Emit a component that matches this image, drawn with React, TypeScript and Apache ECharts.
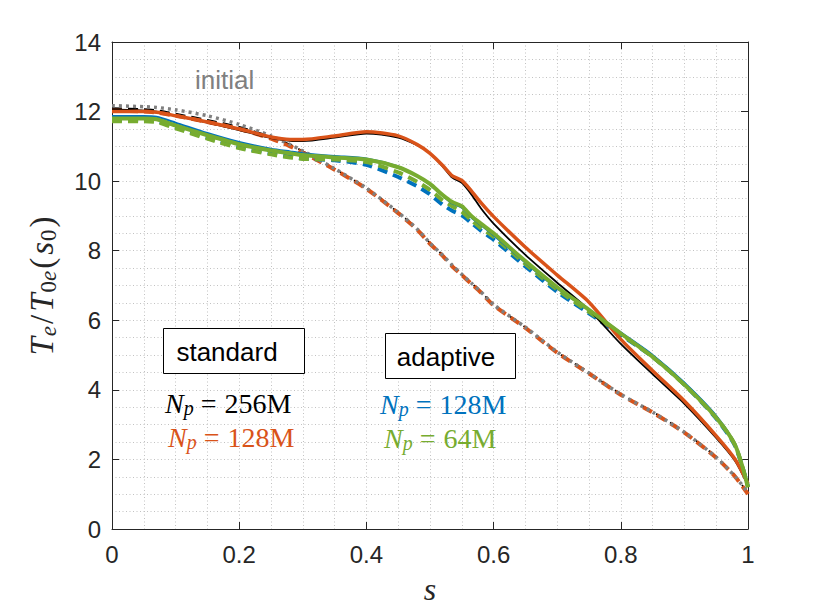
import React, { useEffect, useRef } from "react";
import * as echarts from "echarts";

// s grid shared by all curves
const sGrid = [0, 0.05, 0.07, 0.1, 0.15, 0.2, 0.25, 0.28, 0.3, 0.35, 0.4, 0.45, 0.48, 0.5, 0.52, 0.535, 0.55, 0.565, 0.58, 0.6, 0.65, 0.7, 0.75, 0.8, 0.85, 0.9, 0.95, 0.98, 1.0];

const initialT = [12.17, 12.14, 12.12, 12.05, 11.88, 11.63, 11.3, 11.05, 10.87, 10.36, 9.8, 9.1, 8.62, 8.22, 7.87, 7.58, 7.32, 7.07, 6.82, 6.45, 5.8, 5.09, 4.48, 3.87, 3.36, 2.78, 2.06, 1.5, 1.05];

const std256Solid = [12.06, 12.03, 12.0, 11.88, 11.68, 11.47, 11.24, 11.16, 11.15, 11.25, 11.37, 11.25, 11.03, 10.8, 10.42, 10.1, 9.95, 9.62, 9.22, 8.78, 7.88, 7.08, 6.3, 5.32, 4.45, 3.6, 2.62, 1.95, 1.25];
const std128Solid = [12.0, 12.0, 11.98, 11.88, 11.7, 11.5, 11.27, 11.2, 11.2, 11.3, 11.42, 11.3, 11.05, 10.8, 10.45, 10.15, 10.02, 9.72, 9.38, 8.98, 8.1, 7.3, 6.52, 5.45, 4.55, 3.68, 2.68, 2.0, 1.3];
const std256Dashed = [12.1, 12.07, 12.04, 11.94, 11.76, 11.56, 11.28, 11.05, 10.86, 10.35, 9.8, 9.1, 8.62, 8.22, 7.87, 7.57, 7.32, 7.07, 6.82, 6.45, 5.8, 5.09, 4.49, 3.88, 3.37, 2.79, 2.07, 1.52, 1.02];
const std128Dashed = [12.03, 12.0, 11.97, 11.88, 11.7, 11.5, 11.22, 11.0, 10.82, 10.33, 9.78, 9.08, 8.6, 8.2, 7.85, 7.55, 7.3, 7.05, 6.8, 6.43, 5.78, 5.07, 4.47, 3.86, 3.35, 2.77, 2.05, 1.5, 1.0];

const ada128Solid = [11.87, 11.87, 11.85, 11.68, 11.38, 11.12, 10.93, 10.85, 10.8, 10.72, 10.65, 10.42, 10.15, 9.9, 9.58, 9.36, 9.24, 8.96, 8.74, 8.45, 7.66, 6.92, 6.3, 5.65, 5.0, 4.2, 3.25, 2.42, 1.25];
const ada64Solid = [11.8, 11.8, 11.78, 11.6, 11.32, 11.06, 10.88, 10.8, 10.75, 10.68, 10.62, 10.4, 10.15, 9.92, 9.6, 9.4, 9.28, 9.0, 8.78, 8.5, 7.7, 6.95, 6.3, 5.62, 4.95, 4.15, 3.2, 2.4, 1.2];
const ada128Dashed = [11.75, 11.75, 11.73, 11.55, 11.26, 10.98, 10.8, 10.7, 10.65, 10.6, 10.47, 10.12, 9.85, 9.62, 9.32, 9.15, 9.02, 8.8, 8.58, 8.32, 7.55, 6.82, 6.2, 5.58, 4.95, 4.15, 3.18, 2.38, 1.22];
const ada64Dashed = [11.72, 11.72, 11.7, 11.52, 11.22, 10.95, 10.77, 10.68, 10.64, 10.62, 10.55, 10.25, 9.98, 9.75, 9.45, 9.28, 9.12, 8.88, 8.65, 8.4, 7.62, 6.88, 6.24, 5.6, 4.95, 4.15, 3.2, 2.4, 1.2];

const BLACK = "#000000";
const ORANGE = "#D95319";
const BLUE = "#0072BD";
const GREEN = "#77AC30";
const GRAY = "#808080";

const SERIF = "'Liberation Serif', 'DejaVu Serif', serif";
const SANS = "'Liberation Sans', Arial, sans-serif";

const gridLine = { color: "#c2c2c2", width: 1, type: [1, 2.5] as number[] };

function pts(vals: number[]) {
  return sGrid.map((s, i) => [s, vals[i]]);
}

function mk(name: string, vals: number[], color: string, width: number, type: any) {
  return {
    name,
    type: "line",
    data: pts(vals),
    showSymbol: false,
    symbol: "none",
    smooth: 0.25,
    lineStyle: { color, width, type, cap: "butt" },
    silent: true,
  };
}

const latexRich = (color: string) => ({
  i: { fontFamily: SERIF, fontStyle: "italic", fontSize: 28, fill: color, lineHeight: 30 },
  s: { fontFamily: SERIF, fontStyle: "italic", fontSize: 20, fill: color, verticalAlign: "bottom", lineHeight: 6 },
  e: { fontFamily: SERIF, fontSize: 28, fill: color, lineHeight: 30, padding: [0, 8, 0, 7] },
  r: { fontFamily: SERIF, fontSize: 28, fill: color, lineHeight: 30 },
});

const labelText = (n: string) => `{i|N}{s|p}{e|=}{r|${n}}`;

export default function App() {
  const ref = useRef<HTMLDivElement>(null);
  useEffect(() => {
    if (!ref.current) return;
    const chart = echarts.init(ref.current, undefined, { renderer: "svg" });
    const axisCommon = {
      type: "value",
      axisLine: { show: true, onZero: false, lineStyle: { color: "#262626", width: 1 } },
      axisTick: { show: true, inside: true, length: 7, lineStyle: { color: "#262626", width: 1 } },
    };
    const option: any = {
      animation: false,
      backgroundColor: "#ffffff",
      grid: { left: 112, right: 82, top: 42, bottom: 80, containLabel: false },
      xAxis: [
        {
          ...axisCommon,
          position: "bottom",
          min: 0,
          max: 1,
          interval: 0.2,
          axisLabel: { color: "#262626", fontSize: 24, fontFamily: SANS, margin: 13 },
          splitLine: { show: true, lineStyle: gridLine },
          minorTick: { show: false, splitNumber: 4 },
          minorSplitLine: { show: true, lineStyle: gridLine },
          name: "{i|s}",
          nameLocation: "middle",
          nameGap: 44,
          nameTextStyle: {
            rich: { i: { fontFamily: SERIF, fontStyle: "italic", fontSize: 32, color: "#262626" } },
          },
        },
        {
          ...axisCommon,
          position: "top",
          min: 0,
          max: 1,
          interval: 0.2,
          axisLabel: { show: false },
          splitLine: { show: false },
        },
      ],
      yAxis: [
        {
          ...axisCommon,
          position: "left",
          min: 0,
          max: 14,
          interval: 2,
          axisLabel: { color: "#262626", fontSize: 24, fontFamily: SANS, margin: 11 },
          splitLine: { show: true, lineStyle: gridLine },
          minorTick: { show: false, splitNumber: 4 },
          minorSplitLine: { show: true, lineStyle: gridLine },
          name: "{i|T}{s|e}{r|/}{i|T}{sr|0}{s|e}{r|(}{i|s}{sr|0}{r|)}",
          nameLocation: "middle",
          nameRotate: 90,
          nameGap: 52,
          nameTextStyle: {
            fontSize: 33,
            rich: {
              i: { fontFamily: SERIF, fontStyle: "italic", fontSize: 33, color: "#262626", lineHeight: 36, padding: [0, 1, 0, 1] },
              r: { fontFamily: SERIF, fontSize: 33, color: "#262626", lineHeight: 36, padding: [0, 2, 0, 2] },
              s: { fontFamily: SERIF, fontStyle: "italic", fontSize: 23, color: "#262626", verticalAlign: "bottom", lineHeight: 10 },
              sr: { fontFamily: SERIF, fontSize: 23, color: "#262626", verticalAlign: "bottom", lineHeight: 10 },
            },
          },
        },
        {
          ...axisCommon,
          position: "right",
          min: 0,
          max: 14,
          interval: 2,
          axisLabel: { show: false },
          splitLine: { show: false },
        },
      ],
      series: [
        mk("standard 256M dashed", std256Dashed, BLACK, 1.8, [10, 6]),
        mk("standard 128M dashed", std128Dashed, ORANGE, 4, [10, 6]),
        mk("initial", initialT, GRAY, 3.5, [3, 4]),
        mk("adaptive 128M dashed", ada128Dashed, BLUE, 4, [10, 6]),
        mk("adaptive 64M dashed", ada64Dashed, GREEN, 4, [10, 6]),
        mk("standard 256M", std256Solid, BLACK, 1.8, "solid"),
        mk("standard 128M", std128Solid, ORANGE, 3.5, "solid"),
        mk("adaptive 128M", ada128Solid, BLUE, 2.2, "solid"),
        mk("adaptive 64M", ada64Solid, GREEN, 4, "solid"),
      ],
      graphic: [
        {
          type: "text",
          x: 195,
          y: 80,
          z: 10,
          style: { text: "initial", fill: GRAY, font: `26px ${SANS}`, align: "left", verticalAlign: "middle" },
        },
        {
          type: "rect",
          z: 10,
          shape: { x: 163.5, y: 328.5, width: 141, height: 45 },
          style: { fill: "#ffffff", stroke: "#000000", lineWidth: 1 },
        },
        {
          type: "text",
          x: 227,
          y: 352,
          z: 11,
          style: { text: "standard", fill: "#000000", font: `26px ${SANS}`, align: "center", verticalAlign: "middle" },
        },
        {
          type: "rect",
          z: 10,
          shape: { x: 385.5, y: 333.5, width: 130, height: 45 },
          style: { fill: "#ffffff", stroke: "#000000", lineWidth: 1 },
        },
        {
          type: "text",
          x: 446,
          y: 357,
          z: 11,
          style: { text: "adaptive", fill: "#000000", font: `26px ${SANS}`, align: "center", verticalAlign: "middle" },
        },
        {
          type: "text",
          x: 165,
          y: 403,
          z: 11,
          style: { text: labelText("256M"), rich: latexRich(BLACK), align: "left", verticalAlign: "middle" },
        },
        {
          type: "text",
          x: 168,
          y: 437,
          z: 11,
          style: { text: labelText("128M"), rich: latexRich(ORANGE), align: "left", verticalAlign: "middle" },
        },
        {
          type: "text",
          x: 380,
          y: 404,
          z: 11,
          style: { text: labelText("128M"), rich: latexRich(BLUE), align: "left", verticalAlign: "middle" },
        },
        {
          type: "text",
          x: 384,
          y: 438,
          z: 11,
          style: { text: labelText("64M"), rich: latexRich(GREEN), align: "left", verticalAlign: "middle" },
        },
      ],
    };
    chart.setOption(option);
    return () => chart.dispose();
  }, []);
  return (
    <div
      ref={ref}
      style={{ position: "fixed", left: 0, top: 0, width: 830, height: 610, background: "#ffffff" }}
    />
  );
}
